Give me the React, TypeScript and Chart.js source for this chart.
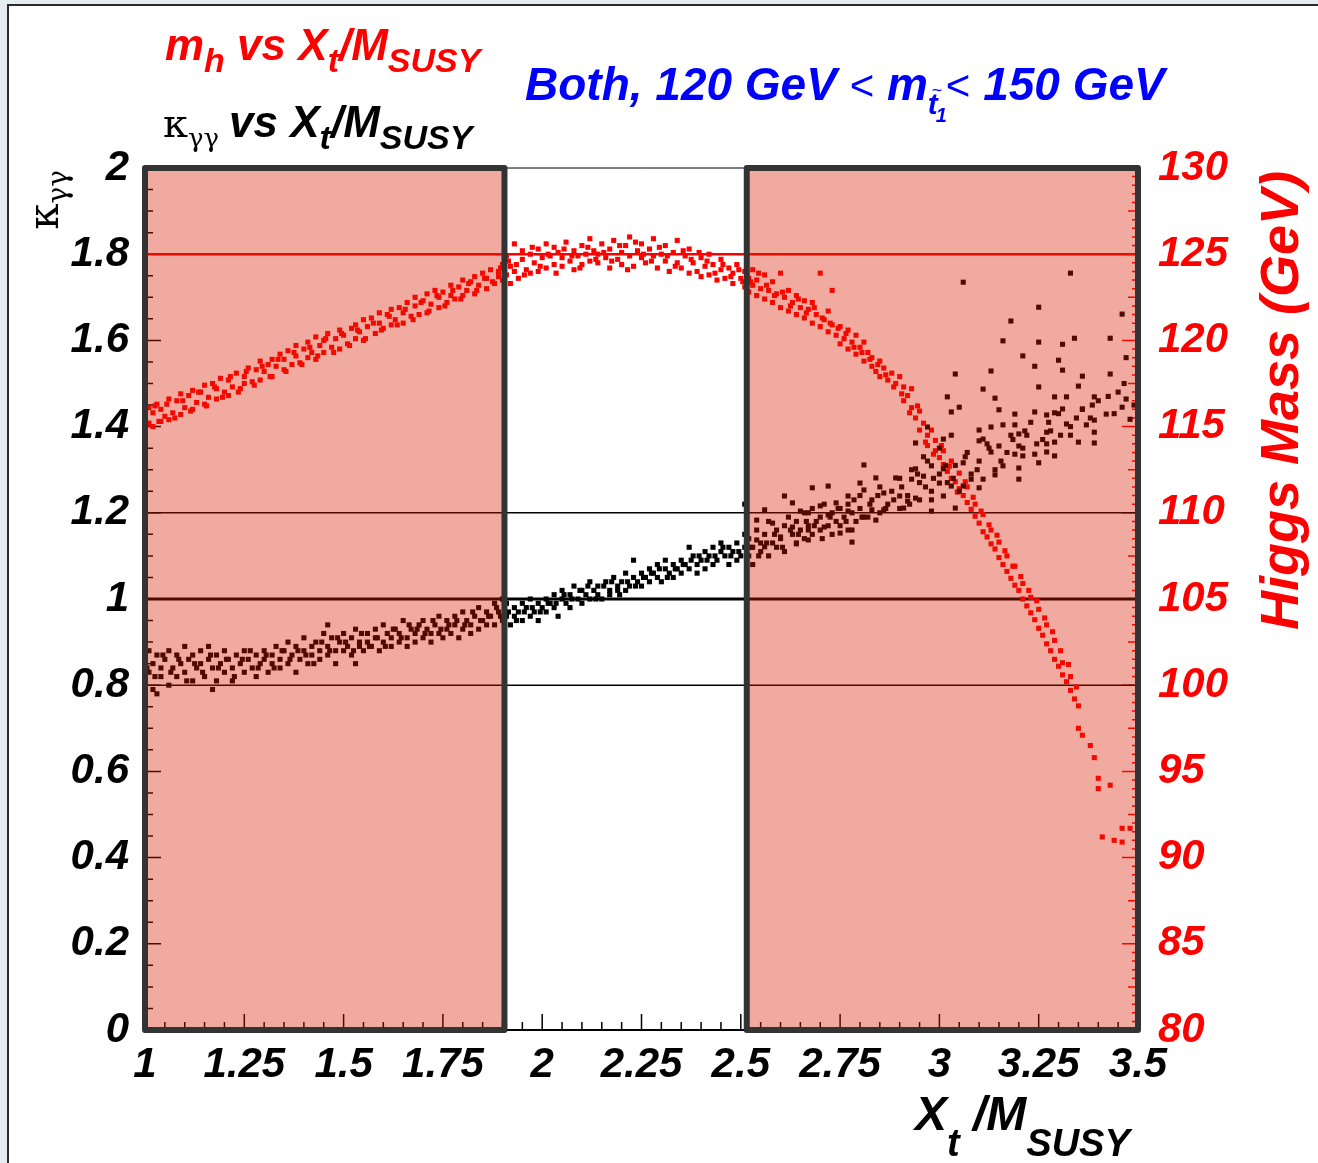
import React, { useEffect, useRef } from "react";
import { Chart, registerables } from "chart.js";

Chart.register(...registerables);

// ---------- axis ranges & tick labels ----------
const X_RANGE: [number, number] = [1, 3.5];
const KAPPA_RANGE: [number, number] = [0, 2];
const MH_RANGE: [number, number] = [80, 130];
const X_STEP = 0.25;
const KAPPA_STEP = 0.2;
const MH_STEP = 5;

// ---------- reference levels & excluded bands ----------
const kappaRefLevels = [0.8, 1.0, 1.2];
const higgsRefMass = 125;
const excludedBands: [number, number][] = [
  [1.0, 1.905],
  [2.515, 3.5],
];

// ---------- m_h (GeV) vs Xt/MSUSY ----------
const mhLow: [number, number][] = [
  [1.00,115.9],[1.00,114.9],[1.01,115.2],[1.01,116.1],[1.02,115.0],[1.02,115.8],[1.03,116.3],[1.04,115.3],[1.04,116.0],[1.05,115.6],
  [1.06,116.6],[1.06,115.4],[1.07,115.8],[1.08,116.5],[1.09,115.7],[1.09,116.9],[1.10,116.1],[1.11,116.8],[1.12,116.0],[1.12,117.1],
  [1.13,116.4],[1.14,117.0],[1.15,116.3],[1.15,117.4],[1.16,116.7],[1.17,117.5],[1.18,116.6],[1.18,117.2],[1.19,117.8],[1.20,117.0],
  [1.21,116.8],[1.21,117.7],[1.22,117.3],[1.23,118.1],[1.24,117.2],[1.25,117.9],[1.25,117.5],[1.26,118.4],[1.27,117.6],[1.28,118.3],
  [1.29,117.7],[1.29,118.8],[1.30,118.2],[1.31,118.6],[1.32,117.9],[1.32,118.9],[1.33,118.5],[1.34,119.2],[1.35,118.3],[1.35,118.9],
  [1.36,119.4],[1.37,118.6],[1.38,119.1],[1.38,119.7],[1.39,118.7],[1.40,119.5],[1.41,119.0],[1.41,119.9],[1.42,119.3],[1.43,118.9],
  [1.43,120.2],[1.44,119.7],[1.45,120.0],[1.45,119.3],[1.46,120.4],[1.47,119.6],[1.48,120.1],[1.49,119.5],[1.49,120.6],[1.50,120.3],
  [1.51,119.8],[1.52,120.7],[1.53,120.1],[1.53,120.9],[1.54,120.5],[1.55,120.0],[1.55,121.2],[1.56,120.8],[1.57,121.3],[1.58,120.4],
  [1.59,121.0],[1.59,121.6],[1.60,120.7],[1.61,121.5],[1.62,120.9],[1.62,121.8],[1.63,121.2],[1.64,121.9],[1.65,121.0],[1.65,121.6],
  [1.66,122.2],[1.67,121.4],[1.68,122.0],[1.68,122.5],[1.69,121.5],[1.70,122.3],[1.71,121.6],[1.71,122.7],[1.72,122.1],[1.73,122.9],
  [1.74,121.9],[1.74,122.5],[1.75,122.8],[1.76,122.2],[1.77,123.2],[1.77,122.6],[1.78,122.4],[1.79,123.1],[1.80,122.6],[1.80,123.5],
  [1.81,122.9],[1.82,123.4],[1.83,122.7],[1.83,123.7],[1.84,123.2],[1.85,123.9],[1.86,123.0],[1.86,123.6],[1.87,124.1],[1.88,123.3],
  [1.89,124.0],[1.89,123.7],[1.90,124.4],[1.90,123.5],
];

const mhLowExtra: [number, number][] = [
  [1.005,115.1],[1.025,116.2],[1.035,115.3],[1.055,116.3],[1.075,115.5],[1.095,116.5],[1.115,115.9],[1.135,117.0],[1.155,116.2],[1.175,117.3],
  [1.195,116.7],[1.215,117.9],[1.235,117.0],[1.255,118.2],[1.275,117.4],[1.295,118.5],[1.315,117.9],[1.335,118.9],[1.355,118.2],[1.375,119.3],
  [1.395,118.6],[1.415,119.6],[1.435,119.1],[1.455,120.1],[1.475,119.3],[1.495,120.4],[1.515,119.7],[1.535,120.6],[1.555,120.1],[1.575,121.0],
  [1.595,120.6],[1.615,121.4],[1.635,120.9],[1.655,121.8],[1.675,121.2],[1.695,122.2],[1.715,121.7],[1.735,122.6],[1.755,122.0],[1.775,122.9],
  [1.795,122.4],[1.815,123.3],[1.835,122.9],[1.855,123.6],[1.875,123.4],[1.895,124.2],
];

const mhMid: [number, number][] = [
  [1.91,123.8],[1.91,124.9],[1.92,124.3],[1.92,123.3],[1.93,125.6],[1.93,124.0],[1.94,123.6],[1.95,124.7],[1.95,125.2],[1.96,124.1],
  [1.97,123.9],[1.97,125.0],[1.98,124.5],[1.99,125.3],[1.99,124.0],[2.00,124.8],[2.01,124.2],[2.01,125.6],[2.02,124.9],[2.03,124.4],
  [2.03,125.4],[2.04,125.1],[2.05,124.3],[2.05,124.8],[2.06,125.7],[2.07,124.6],[2.08,125.2],[2.08,124.1],[2.09,124.9],[2.10,125.5],
  [2.10,124.4],[2.11,125.0],[2.12,124.6],[2.12,125.9],[2.13,125.2],[2.14,124.5],[2.14,125.0],[2.15,125.6],[2.16,124.8],[2.17,125.3],
  [2.17,124.2],[2.18,125.8],[2.19,124.7],[2.20,125.1],[2.20,124.4],[2.21,125.5],[2.22,124.9],[2.22,126.0],[2.23,124.3],[2.24,125.2],
  [2.25,124.8],[2.25,125.6],[2.26,124.5],[2.27,125.3],[2.28,124.9],[2.28,125.9],[2.29,124.2],[2.30,125.0],[2.31,124.6],[2.31,125.5],
  [2.32,124.0],[2.33,125.1],[2.34,124.5],[2.34,125.8],[2.35,124.2],[2.36,124.9],[2.37,123.9],[2.37,125.3],[2.38,124.5],[2.39,124.0],
  [2.40,124.8],[2.40,123.7],[2.41,124.3],[2.42,125.0],[2.42,123.8],[2.43,124.4],[2.44,123.5],[2.45,124.1],[2.45,124.7],[2.46,123.6],
  [2.47,124.2],[2.48,123.3],[2.48,123.9],[2.49,124.4],[2.50,123.6],[2.51,123.1],[2.51,124.0],
];

const mhMidExtra: [number, number][] = [
  [1.915,124.6],[1.935,124.4],[1.955,123.8],[1.975,125.4],[1.995,124.3],[2.015,125.0],[2.035,123.9],[2.055,125.3],[2.075,124.9],[2.095,124.2],
  [2.115,125.4],[2.135,124.7],[2.155,125.1],[2.175,124.6],[2.195,125.5],[2.215,124.1],[2.235,125.7],[2.255,125.0],[2.275,124.6],[2.295,125.4],
  [2.315,124.9],[2.335,124.3],[2.355,125.2],[2.375,124.7],[2.395,125.1],[2.415,124.6],[2.435,123.9],[2.455,124.4],[2.475,123.7],[2.495,124.1],
  [2.505,123.4],
];

const mhHigh: [number, number][] = [
  [2.52,123.6],[2.52,122.8],[2.53,123.2],[2.53,124.1],[2.54,122.6],[2.54,123.5],[2.55,123.0],[2.56,122.4],[2.56,123.8],[2.57,122.9],
  [2.58,122.2],[2.58,123.4],[2.59,122.7],[2.60,123.9],[2.60,121.9],[2.61,122.5],[2.62,121.7],[2.62,122.9],[2.63,122.2],[2.64,121.5],
  [2.64,122.6],[2.65,121.9],[2.66,121.3],[2.66,122.3],[2.67,121.8],[2.68,121.0],[2.68,122.2],[2.69,121.5],[2.70,123.9],[2.70,120.8],
  [2.71,121.2],[2.72,120.5],[2.72,121.7],[2.73,122.9],[2.73,120.9],[2.74,120.3],[2.75,120.8],[2.75,119.8],[2.76,120.1],[2.77,119.5],
  [2.77,120.6],[2.78,119.9],[2.79,119.2],[2.79,120.3],[2.80,119.6],[2.81,118.8],[2.81,119.9],[2.82,119.3],[2.83,118.5],[2.83,119.0],
  [2.84,118.2],[2.85,118.8],[2.85,117.9],[2.86,118.4],[2.87,117.7],[2.88,118.1],[2.89,117.5],[2.90,117.9],[2.91,117.3],[2.91,116.5],
  [2.92,116.8],[2.93,116.1],[2.93,117.2],[2.94,115.5],[2.95,115.9],[2.95,114.8],[2.96,115.2],[2.97,114.5],[2.97,113.9],[2.98,114.8],
  [2.99,113.6],[2.99,114.2],[3.00,113.2],[3.01,112.8],[3.01,113.6],[3.02,112.4],[3.03,113.0],[3.03,112.0],[3.04,111.8],[3.05,112.3],
  [3.05,111.4],[3.06,111.0],[3.07,110.6],[3.07,111.5],[3.08,110.2],[3.09,109.8],[3.09,110.5],[3.10,109.4],[3.11,109.9],[3.11,108.9],
  [3.12,108.6],[3.13,109.0],[3.13,108.2],[3.14,107.9],[3.15,107.4],[3.15,108.3],[3.16,107.0],[3.17,106.6],[3.17,107.5],[3.18,106.2],
  [3.19,106.9],[3.19,105.8],[3.20,105.5],[3.21,105.0],[3.21,105.9],[3.22,104.6],[3.23,104.2],[3.23,105.1],[3.24,103.8],[3.25,103.3],
  [3.25,104.4],[3.26,102.9],[3.27,102.4],[3.27,103.5],[3.28,102.0],[3.29,101.5],[3.29,102.6],[3.30,101.1],[3.31,100.6],[3.31,101.3],
  [3.32,100.2],[3.33,99.7],[3.33,100.5],[3.34,99.2],[3.35,97.5],[3.35,98.8],[3.36,97.1],[3.38,96.5],[3.39,95.8],[3.40,94.6],
  [3.40,94.0],[3.43,94.2],[3.41,91.2],[3.44,91.0],[3.46,90.9],[3.46,91.7],[3.48,91.7],
];

const mhHighExtra: [number, number][] = [
  [2.525,123.4],[2.545,123.9],[2.565,123.2],[2.585,122.6],[2.605,122.8],[2.625,122.0],[2.645,122.4],[2.665,121.6],[2.685,121.9],[2.705,121.3],
  [2.725,121.0],[2.745,120.7],[2.765,120.4],[2.785,119.6],[2.805,119.3],[2.825,118.9],[2.845,118.6],[2.865,118.0],[2.885,117.3],[2.905,116.9],
  [2.925,115.8],[2.945,116.2],[2.965,114.1],[2.985,113.4],[3.005,113.9],[3.025,112.7],[3.045,111.2],[3.065,111.8],[3.085,110.9],[3.105,110.1],
  [3.125,109.3],[3.145,108.7],[3.165,107.8],[3.185,106.9],[3.205,106.3],[3.225,105.5],[3.245,104.9],[3.265,103.9],[3.285,103.1],[3.305,102.0],
  [3.325,101.2],[3.345,99.9],
];

// ---------- kappa_gamma-gamma vs Xt/MSUSY ----------
const kapLow: [number, number][] = [
  [1.00,0.86],[1.00,0.81],[1.01,0.83],[1.01,0.88],[1.02,0.79],[1.02,0.85],[1.03,0.87],[1.03,0.78],[1.04,0.82],[1.04,0.84],
  [1.05,0.86],[1.06,0.80],[1.06,0.88],[1.07,0.84],[1.08,0.87],[1.08,0.82],[1.09,0.85],[1.10,0.83],[1.10,0.89],[1.11,0.86],
  [1.12,0.81],[1.12,0.87],[1.13,0.84],[1.14,0.88],[1.14,0.85],[1.15,0.82],[1.16,0.86],[1.16,0.89],[1.17,0.84],[1.17,0.79],
  [1.18,0.81],[1.18,0.87],[1.19,0.85],[1.20,0.88],[1.20,0.83],[1.21,0.86],[1.22,0.84],[1.22,0.81],[1.23,0.87],[1.24,0.85],
  [1.25,0.83],[1.25,0.88],[1.26,0.86],[1.27,0.84],[1.28,0.87],[1.28,0.82],[1.29,0.85],[1.30,0.88],[1.30,0.86],[1.31,0.83],
  [1.32,0.87],[1.32,0.85],[1.33,0.89],[1.34,0.84],[1.34,0.86],[1.35,0.88],[1.36,0.85],[1.36,0.90],[1.37,0.87],[1.38,0.83],
  [1.38,0.89],[1.39,0.86],[1.40,0.88],[1.40,0.91],[1.41,0.85],[1.42,0.89],[1.42,0.87],[1.43,0.90],[1.44,0.86],[1.44,0.88],
  [1.45,0.92],[1.46,0.87],[1.46,0.89],[1.46,0.94],[1.47,0.91],[1.48,0.88],[1.48,0.85],[1.49,0.90],[1.50,0.92],[1.50,0.88],
  [1.51,0.89],[1.52,0.87],[1.52,0.91],[1.53,0.93],[1.53,0.85],[1.54,0.89],[1.54,0.90],[1.55,0.88],[1.56,0.92],[1.56,0.90],
  [1.57,0.89],[1.58,0.93],[1.58,0.91],[1.59,0.88],[1.60,0.90],[1.60,0.94],[1.61,0.92],[1.62,0.89],[1.62,0.91],[1.63,0.93],
  [1.64,0.90],[1.64,0.92],[1.65,0.95],[1.66,0.91],[1.66,0.89],[1.67,0.93],[1.68,0.90],[1.68,0.92],[1.69,0.94],[1.70,0.91],
  [1.70,0.95],[1.71,0.93],[1.72,0.90],[1.72,0.92],[1.73,0.94],[1.74,0.92],[1.74,0.96],[1.75,0.91],[1.76,0.93],[1.76,0.95],
  [1.77,0.92],[1.78,0.96],[1.78,0.94],[1.79,0.91],[1.80,0.93],[1.80,0.97],[1.81,0.95],[1.82,0.92],[1.82,0.94],[1.83,0.96],
  [1.84,0.93],[1.84,0.98],[1.85,0.95],[1.86,0.94],[1.86,0.97],[1.87,0.96],[1.88,0.99],[1.88,0.94],[1.89,0.97],[1.90,0.95],
  [1.90,1.00],
];

const kapLowExtra: [number, number][] = [
  [1.005,0.84],[1.025,0.82],[1.045,0.87],[1.065,0.83],[1.085,0.86],[1.105,0.81],[1.125,0.85],[1.145,0.83],[1.165,0.87],[1.185,0.84],
  [1.205,0.86],[1.225,0.82],[1.245,0.86],[1.265,0.88],[1.285,0.84],[1.305,0.87],[1.325,0.84],[1.345,0.88],[1.365,0.86],[1.385,0.88],
  [1.405,0.87],[1.425,0.85],[1.445,0.90],[1.465,0.88],[1.485,0.91],[1.505,0.90],[1.525,0.88],[1.545,0.92],[1.565,0.89],[1.585,0.91],
  [1.605,0.89],[1.625,0.93],[1.645,0.91],[1.665,0.94],[1.685,0.93],[1.705,0.92],[1.725,0.95],[1.745,0.93],[1.765,0.94],[1.785,0.95],
  [1.805,0.94],[1.825,0.97],[1.845,0.95],[1.865,0.96],[1.885,0.98],[1.895,0.96],
];

const kapMid: [number, number][] = [
  [1.91,0.96],[1.91,0.99],[1.92,0.94],[1.93,0.98],[1.93,0.96],[1.94,0.97],[1.95,0.95],[1.95,0.99],[1.96,0.98],[1.97,0.96],
  [1.97,1.00],[1.98,0.97],[1.99,0.99],[1.99,0.95],[2.00,0.98],[2.01,1.00],[2.01,0.97],[2.02,0.99],[2.03,1.01],[2.03,0.98],
  [2.04,0.96],[2.05,1.00],[2.05,1.02],[2.06,0.99],[2.07,1.01],[2.07,0.98],[2.08,1.03],[2.09,1.00],[2.10,1.02],[2.10,0.99],
  [2.11,1.01],[2.12,1.04],[2.12,1.00],[2.13,1.02],[2.14,1.01],[2.14,1.03],[2.15,1.00],[2.16,1.04],[2.17,1.02],[2.17,1.01],
  [2.18,1.05],[2.19,1.03],[2.19,1.02],[2.20,1.04],[2.21,1.02],[2.21,1.06],[2.22,1.03],[2.23,1.05],[2.23,1.09],[2.24,1.04],
  [2.25,1.03],[2.25,1.06],[2.26,1.05],[2.27,1.07],[2.27,1.04],[2.28,1.06],[2.29,1.05],[2.29,1.08],[2.30,1.04],[2.31,1.07],
  [2.31,1.09],[2.32,1.06],[2.33,1.05],[2.33,1.08],[2.34,1.07],[2.35,1.09],[2.35,1.06],[2.36,1.08],[2.37,1.07],[2.37,1.12],
  [2.38,1.10],[2.39,1.08],[2.39,1.06],[2.40,1.09],[2.41,1.11],[2.41,1.07],[2.42,1.10],[2.43,1.08],[2.43,1.12],[2.44,1.09],
  [2.45,1.11],[2.45,1.13],[2.46,1.10],[2.47,1.08],[2.47,1.12],[2.48,1.11],[2.49,1.13],[2.49,1.09],[2.50,1.10],[2.51,1.12],
  [2.51,1.15],[2.51,1.22],
];

const kapMidExtra: [number, number][] = [
  [1.915,0.97],[1.935,0.95],[1.955,0.97],[1.975,0.98],[1.995,0.97],[2.015,0.99],[2.035,0.99],[2.055,1.01],[2.075,1.00],[2.095,1.02],
  [2.115,1.03],[2.135,1.00],[2.155,1.03],[2.175,1.04],[2.195,1.01],[2.215,1.04],[2.235,1.03],[2.255,1.05],[2.275,1.06],[2.295,1.07],
  [2.315,1.05],[2.335,1.07],[2.355,1.08],[2.375,1.09],[2.395,1.10],[2.415,1.09],[2.435,1.10],[2.455,1.12],[2.475,1.10],[2.495,1.11],
];

const kapHighBand: [number, number][] = [
  [2.52,1.10],[2.52,1.14],[2.53,1.12],[2.53,1.08],[2.54,1.16],[2.55,1.11],[2.55,1.13],[2.56,1.15],[2.57,1.10],[2.57,1.18],
  [2.58,1.13],[2.59,1.16],[2.59,1.12],[2.60,1.14],[2.61,1.17],[2.61,1.11],[2.62,1.19],[2.63,1.15],[2.64,1.13],[2.64,1.18],
  [2.65,1.16],[2.66,1.20],[2.66,1.14],[2.67,1.17],[2.68,1.15],[2.68,1.21],[2.69,1.18],[2.70,1.16],[2.70,1.19],[2.71,1.22],
  [2.72,1.17],[2.73,1.20],[2.73,1.15],[2.74,1.18],[2.75,1.21],[2.75,1.17],[2.76,1.19],[2.77,1.16],[2.77,1.22],[2.78,1.20],
  [2.79,1.18],[2.80,1.21],[2.80,1.24],[2.82,1.19],[2.83,1.23],[2.85,1.20],[2.85,1.26],[2.87,1.22],[2.88,1.25],[2.90,1.21],
  [2.90,1.28],[2.92,1.24],[2.93,1.30],[2.95,1.23],[2.95,1.27],[2.96,1.33],[2.98,1.25],[3.00,1.29],[3.00,1.35],[3.02,1.27],
  [3.04,1.31],[3.05,1.25],[3.07,1.34],[3.08,1.29],[3.10,1.32],[3.12,1.36],[3.14,1.30],[3.17,1.34],[3.18,1.38],[3.21,1.35],
  [3.23,1.41],[3.26,1.37],[3.28,1.39],[3.30,1.43],[3.33,1.40],[3.36,1.44],[3.38,1.42],[3.40,1.46],[3.44,1.43],[3.45,1.48],
  [3.49,1.45],[3.47,1.56],
];

const kapHighExtra: [number, number][] = [
  [2.525,1.12],[2.545,1.10],[2.565,1.13],[2.585,1.15],[2.605,1.12],[2.625,1.16],[2.645,1.15],[2.665,1.18],[2.685,1.17],[2.705,1.14],
  [2.725,1.19],[2.745,1.21],[2.765,1.18],[2.785,1.23],[2.805,1.19],[2.825,1.22],[2.845,1.24],[2.865,1.21],[2.885,1.23],[2.905,1.26],
  [2.925,1.22],[2.945,1.29],[2.965,1.26],[2.985,1.28],[3.015,1.31],[3.035,1.28],[3.065,1.33],[3.095,1.30],[3.125,1.35],[3.155,1.32],
  [3.185,1.37],[3.215,1.39],[3.245,1.36],[3.275,1.41],[3.305,1.38],[3.345,1.42],[3.385,1.45],[3.425,1.47],[3.465,1.50],
];

const kapHighSpread: [number, number][] = [
  [3.06,1.735],[3.33,1.756],[3.25,1.677],[3.46,1.661],[3.18,1.645],[3.16,1.599],[3.25,1.596],[3.34,1.605],[3.43,1.605],[3.31,1.591],
  [3.21,1.564],[3.30,1.554],[3.24,1.54],[3.31,1.531],[3.13,1.529],[3.04,1.522],[3.36,1.517],[3.43,1.522],[3.25,1.492],[3.11,1.487],
  [3.35,1.494],[3.02,1.469],[3.14,1.466],[3.29,1.469],[3.32,1.469],[3.39,1.469],[3.47,1.464],[3.05,1.445],[3.15,1.439],[3.46,1.445],
  [3.03,1.434],[3.19,1.429],[3.24,1.434],[3.27,1.427],[3.29,1.432],[3.31,1.441],[3.36,1.441],[3.42,1.429],[3.48,1.417],[3.13,1.399],
  [3.16,1.404],[3.10,1.392],[3.19,1.404],[3.32,1.406],[3.37,1.404],[3.39,1.415],[3.03,1.38],[3.11,1.371],[3.20,1.383],[3.22,1.38],
  [3.27,1.387],[3.33,1.38],[3.39,1.387],[2.94,1.362],[3.10,1.367],[3.15,1.355],[3.20,1.355],[3.27,1.36],[3.29,1.364],[3.35,1.364],
  [3.39,1.362],[2.97,1.399],[3.01,1.371],[3.13,1.341],[3.19,1.336],[3.21,1.332],[3.24,1.336],[3.27,1.341],[3.29,1.332],[2.97,1.32],
  [3.16,1.309],[3.20,1.304],[3.25,1.316],[3.20,1.278],[3.14,1.288],[2.81,1.311],[2.94,1.302],[2.98,1.309],[3.01,1.302],[3.06,1.316],
  [3.08,1.278],[3.11,1.278],[2.84,1.281],[2.89,1.281],[2.93,1.278],[2.96,1.285],[3.00,1.269],[3.03,1.262],[3.06,1.262],[3.10,1.258],
  [2.80,1.269],[2.68,1.258],[2.72,1.262],[2.77,1.239],[2.81,1.253],[2.86,1.246],[2.90,1.239],[2.92,1.227],[2.94,1.234],[2.98,1.23],
  [3.01,1.239],[3.04,1.211],[2.98,1.204],[2.61,1.239],[2.63,1.223],[2.70,1.216],[2.74,1.223],[2.83,1.207],[2.86,1.207],[2.91,1.211],
  [2.56,1.207],[2.65,1.204],[2.67,1.2],[2.72,1.195],[2.77,1.204],[2.81,1.19],[2.84,1.183],[2.54,1.183],[2.58,1.176],[2.63,1.167],
  [2.67,1.16],[2.71,1.167],[2.75,1.153],[2.78,1.16],[2.60,1.144],[2.56,1.121],[2.64,1.128],[2.67,1.137],[2.78,1.132],[2.54,1.137],
];

// ---------- styling helpers ----------
const FAMILY = '"Liberation Sans", Arial, sans-serif';
const SERIF = '"DejaVu Serif", "Liberation Serif", serif';
const BI = (s: number) => `italic bold ${s}px ${FAMILY}`;
const PLAIN = (s: number) => `${s}px ${FAMILY}`;
const SER = (s: number) => `${s}px ${SERIF}`;

type Run = { t: string; font: string; dy?: number; dx?: number };

function runsWidth(ctx: CanvasRenderingContext2D, runs: Run[]) {
  let w = 0;
  for (const r of runs) {
    ctx.font = r.font;
    w += ctx.measureText(r.t).width + (r.dx || 0);
  }
  return w;
}

function drawRuns(ctx: CanvasRenderingContext2D, x: number, y: number, runs: Run[], color: string) {
  let cx = x;
  ctx.fillStyle = color;
  ctx.textBaseline = "alphabetic";
  ctx.textAlign = "left";
  for (const r of runs) {
    ctx.font = r.font;
    ctx.fillText(r.t, cx, y + (r.dy || 0));
    cx += ctx.measureText(r.t).width + (r.dx || 0);
  }
  return cx;
}

const toPts = (arr: [number, number][]) => arr.map(([x, y]) => ({ x, y }));
const fmt = (v: number) => String(Math.round(Number(v) * 100) / 100);

const decorPlugin = {
  id: "rootDecor",
  beforeDraw(chart: any) {
    const ctx: CanvasRenderingContext2D = chart.ctx;
    ctx.save();
    ctx.fillStyle = "#e6edf1";
    ctx.fillRect(0, 0, chart.width, chart.height);
    ctx.fillStyle = "#ffffff";
    ctx.fillRect(8, 5, chart.width - 8, chart.height - 5);
    ctx.strokeStyle = "#2b2b2b";
    ctx.lineWidth = 2;
    ctx.beginPath();
    ctx.moveTo(8, chart.height);
    ctx.lineTo(8, 5);
    ctx.lineTo(chart.width, 5);
    ctx.stroke();
    ctx.restore();
  },
  beforeDatasetsDraw(chart: any) {
    const ctx: CanvasRenderingContext2D = chart.ctx;
    const a = chart.chartArea;
    const { x, y, y2 } = chart.scales;
    ctx.save();
    ctx.strokeStyle = "#000";
    ctx.lineWidth = 1.5;
    ctx.beginPath();
    for (let i = 0; i <= 50; i++) {
      const px = x.getPixelForValue(X_RANGE[0] + i * 0.05);
      const len = i % 5 === 0 ? 16 : 8;
      ctx.moveTo(px, a.bottom);
      ctx.lineTo(px, a.bottom - len);
    }
    for (let i = 0; i <= 40; i++) {
      const py = y.getPixelForValue(KAPPA_RANGE[0] + i * 0.05);
      const len = i % 4 === 0 ? 16 : 8;
      ctx.moveTo(a.left, py);
      ctx.lineTo(a.left + len, py);
    }
    ctx.stroke();
    ctx.strokeStyle = "#ff0000";
    ctx.beginPath();
    for (let i = 0; i <= 100; i++) {
      const py = y2.getPixelForValue(MH_RANGE[0] + i * 0.5);
      const len = i % 10 === 0 ? 16 : i % 5 === 0 ? 10 : 6;
      ctx.moveTo(a.right, py);
      ctx.lineTo(a.right - len, py);
    }
    ctx.stroke();
    ctx.strokeStyle = "#000";
    ctx.lineWidth = 1;
    ctx.beginPath();
    ctx.moveTo(a.left, a.top);
    ctx.lineTo(a.right, a.top);
    ctx.stroke();
    ctx.lineWidth = 2;
    ctx.beginPath();
    ctx.moveTo(a.left, a.top);
    ctx.lineTo(a.left, a.bottom);
    ctx.lineTo(a.right, a.bottom);
    ctx.stroke();
    ctx.strokeStyle = "#ff0000";
    ctx.beginPath();
    ctx.moveTo(a.right, a.top);
    ctx.lineTo(a.right, a.bottom);
    ctx.stroke();
    ctx.restore();
  },
  afterDatasetsDraw(chart: any) {
    const ctx: CanvasRenderingContext2D = chart.ctx;
    const a = chart.chartArea;
    const { x } = chart.scales;
    ctx.save();
    for (const [x0, x1] of excludedBands) {
      const p0 = x.getPixelForValue(x0);
      const p1 = x.getPixelForValue(x1);
      ctx.fillStyle = "rgba(214,27,0,0.373)";
      ctx.fillRect(p0, a.top, p1 - p0, a.bottom - a.top);
    }
    ctx.strokeStyle = "#333333";
    ctx.lineWidth = 6;
    ctx.lineJoin = "round";
    for (const [x0, x1] of excludedBands) {
      const p0 = x.getPixelForValue(x0);
      const p1 = x.getPixelForValue(x1);
      ctx.strokeRect(p0, a.top, p1 - p0, a.bottom - a.top);
    }
    ctx.restore();
  },
  afterDraw(chart: any) {
    const ctx: CanvasRenderingContext2D = chart.ctx;
    const a = chart.chartArea;
    ctx.save();
    drawRuns(ctx, 165, 60, [
      { t: "m", font: BI(44) },
      { t: "h", font: BI(34), dy: 12 },
      { t: " vs X", font: BI(44) },
      { t: "t", font: BI(34), dy: 12 },
      { t: "/M", font: BI(44) },
      { t: "SUSY", font: BI(34), dy: 12 },
    ], "#ff0000");
    drawRuns(ctx, 163, 137, [
      { t: "\u03BA", font: SER(40) },
      { t: "\u03B3\u03B3", font: SER(26), dy: 10, dx: 10 },
      { t: "vs X", font: BI(44) },
      { t: "t", font: BI(34), dy: 12 },
      { t: "/M", font: BI(44) },
      { t: "SUSY", font: BI(34), dy: 12 },
    ], "#000000");
    let cx = drawRuns(ctx, 525, 100, [
      { t: "Both, 120 GeV ", font: BI(46) },
      { t: "<", font: PLAIN(42) },
      { t: " m", font: BI(46) },
    ], "#0000ff");
    ctx.font = BI(30);
    const tW = ctx.measureText("t").width;
    ctx.fillText("t", cx, 114);
    ctx.font = PLAIN(18);
    ctx.fillText("~", cx + 4, 96);
    ctx.font = BI(20);
    ctx.fillText("1", cx + tW - 2, 122);
    cx += tW + 8;
    drawRuns(ctx, cx, 100, [
      { t: "<", font: PLAIN(42) },
      { t: " 150 GeV", font: BI(46) },
    ], "#0000ff");
    drawRuns(ctx, 915, 1130, [
      { t: "X", font: BI(48) },
      { t: "t", font: BI(38), dy: 26 },
      { t: " /M", font: BI(48) },
      { t: "SUSY", font: BI(38), dy: 26 },
    ], "#000000");
    const kRuns: Run[] = [
      { t: "\u03BA", font: SER(42) },
      { t: "\u03B3\u03B3", font: SER(28), dy: 9 },
    ];
    const kW = runsWidth(ctx, kRuns);
    ctx.save();
    ctx.translate(58, a.top + kW + 2);
    ctx.rotate(-Math.PI / 2);
    drawRuns(ctx, 0, 0, kRuns, "#000000");
    ctx.restore();
    ctx.save();
    ctx.translate(1298, 630);
    ctx.rotate(-Math.PI / 2);
    drawRuns(ctx, 0, 0, [{ t: "Higgs Mass (GeV)", font: BI(54) }], "#ff0000");
    ctx.restore();
    ctx.restore();
  },
};

export default function App() {
  const ref = useRef<HTMLCanvasElement | null>(null);

  useEffect(() => {
    document.body.style.margin = "0";
    const canvas = ref.current;
    if (!canvas) return;
    const pointStyle = {
      pointStyle: "rect" as const,
      pointRadius: 3.6,
      pointHoverRadius: 3.6,
      borderWidth: 0,
      showLine: false,
    };
    const refLineDatasets = kappaRefLevels.map((lvl) => ({
      label: `kappa=${lvl}`,
      data: [
        { x: X_RANGE[0], y: lvl },
        { x: X_RANGE[1], y: lvl },
      ],
      yAxisID: "y",
      showLine: true,
      borderColor: "#000000",
      borderWidth: lvl === 1 ? 3 : 1.5,
      pointRadius: 0,
      order: 10,
    }));
    const chart = new Chart(canvas, {
      type: "scatter",
      data: {
        datasets: [
          ...refLineDatasets,
          {
            label: "mh=125",
            data: [
              { x: X_RANGE[0], y: higgsRefMass },
              { x: X_RANGE[1], y: higgsRefMass },
            ],
            yAxisID: "y2",
            showLine: true,
            borderColor: "#ff0000",
            borderWidth: 2.5,
            pointRadius: 0,
            order: 9,
          },
          {
            label: "m_h",
            data: toPts([...mhLow, ...mhLowExtra, ...mhMid, ...mhMidExtra, ...mhHigh, ...mhHighExtra]),
            yAxisID: "y2",
            backgroundColor: "#ff0000",
            ...pointStyle,
            order: 2,
          },
          {
            label: "kappa_gg",
            data: toPts([...kapLow, ...kapLowExtra, ...kapMid, ...kapMidExtra, ...kapHighBand, ...kapHighExtra, ...kapHighSpread]),
            yAxisID: "y",
            backgroundColor: "#000000",
            ...pointStyle,
            order: 1,
          },
        ] as any,
      },
      options: {
        animation: false,
        responsive: false,
        devicePixelRatio: 1,
        events: [],
        layout: { padding: { top: 168, left: 0, right: 0, bottom: 0 } },
        plugins: { legend: { display: false }, tooltip: { enabled: false } },
        scales: {
          x: {
            type: "linear",
            position: "bottom",
            min: X_RANGE[0],
            max: X_RANGE[1],
            grid: { display: false },
            border: { display: false },
            afterFit: (s: any) => {
              s.height = 133;
            },
            ticks: {
              stepSize: X_STEP,
              autoSkip: false,
              maxRotation: 0,
              padding: 2,
              color: "#000000",
              font: { family: FAMILY, size: 42, weight: "bold", style: "italic" },
              callback: (v: any) => fmt(v),
            },
          },
          y: {
            type: "linear",
            position: "left",
            min: KAPPA_RANGE[0],
            max: KAPPA_RANGE[1],
            grid: { display: false },
            border: { display: false },
            afterFit: (s: any) => {
              s.width = 145;
            },
            ticks: {
              stepSize: KAPPA_STEP,
              autoSkip: false,
              padding: 8,
              color: "#000000",
              font: { family: FAMILY, size: 42, weight: "bold", style: "italic" },
              callback: (v: any) => fmt(v),
            },
          },
          y2: {
            type: "linear",
            position: "right",
            min: MH_RANGE[0],
            max: MH_RANGE[1],
            grid: { display: false },
            border: { display: false },
            afterFit: (s: any) => {
              s.width = 180;
            },
            ticks: {
              stepSize: MH_STEP,
              autoSkip: false,
              padding: 12,
              color: "#ff0000",
              font: { family: FAMILY, size: 42, weight: "bold", style: "italic" },
              callback: (v: any) => fmt(v),
            },
          },
        },
      } as any,
      plugins: [decorPlugin],
    });
    return () => chart.destroy();
  }, []);

  return <canvas ref={ref} width={1318} height={1163} style={{ display: "block" }} />;
}
